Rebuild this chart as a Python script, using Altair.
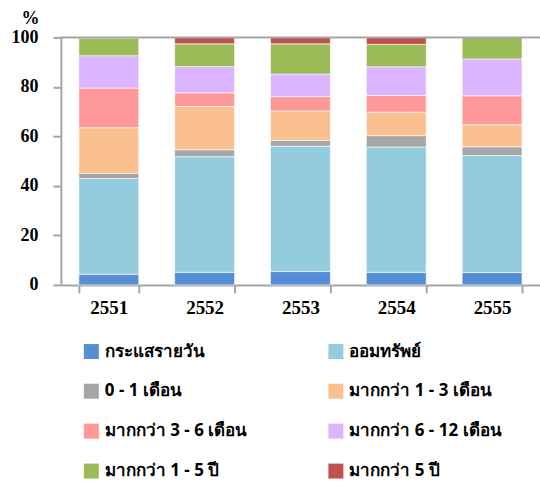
import altair as alt
import pandas as pd

years = ["2551", "2552", "2553", "2554", "2555"]
series = ["กระแสรายวัน", "ออมทรัพย์", "0 - 1 เดือน", "มากกว่า 1 - 3 เดือน",
          "มากกว่า 3 - 6 เดือน", "มากกว่า 6 - 12 เดือน", "มากกว่า 1 - 5 ปี", "มากกว่า 5 ปี"]
colors = ["#558ED5", "#93CDDD", "#A6A6A6", "#FAC090",
          "#FF9999", "#DCB4FF", "#9BBB59", "#C0504D"]
values = {
    "2551": [4.3, 38.7, 2.1, 18.4, 16.0, 13.1, 7.1, 0.3],
    "2552": [5.1, 46.7, 2.8, 17.5, 5.5, 10.6, 9.2, 2.6],
    "2553": [5.4, 50.6, 2.4, 11.9, 5.8, 9.1, 12.2, 2.6],
    "2554": [5.1, 50.6, 4.6, 9.5, 6.7, 11.6, 9.1, 2.8],
    "2555": [5.0, 47.3, 3.5, 8.9, 11.7, 14.9, 8.7, 0.0],
}
y_ticks = [0, 20, 40, 60, 80, 100]

rows = []
for y in years:
    for i, s in enumerate(series):
        rows.append({"year": y, "series": s, "idx": i, "value": values[y][i]})
df = pd.DataFrame(rows)

# legend fills column by column; reorder so it reads row by row (2 columns)
legend_order = series[0::2] + series[1::2]
legend_colors = colors[0::2] + colors[1::2]

num_font = "Liberation Serif"
thai_font = "Noto Sans"
axis_color = "#A6A6A6"

bars = alt.Chart(df).mark_bar(stroke="white", strokeWidth=0.6).encode(
    x=alt.X("year:N", sort=years, title=None,
            scale=alt.Scale(paddingInner=0.375, paddingOuter=0.1875),
            axis=alt.Axis(labelAngle=0, labelFont=num_font, labelFontSize=19,
                          labelFontWeight="bold", labelColor="black",
                          domainColor=axis_color, domainWidth=2,
                          tickColor=axis_color, tickWidth=2, tickSize=8,
                          tickBand="extent", labelPadding=6)),
    y=alt.Y("value:Q", stack="zero", title="%",
            scale=alt.Scale(domain=[0, 100], nice=False),
            axis=alt.Axis(values=y_ticks, grid=False, labelFont=num_font,
                          labelFontSize=18, labelFontWeight="bold",
                          labelColor="black", domainColor=axis_color,
                          domainWidth=2, tickColor=axis_color, tickWidth=2,
                          tickSize=8, labelPadding=15,
                          titleAngle=0, titleX=-31, titleY=-19,
                          titleAlign="center", titleBaseline="middle",
                          titleFont=num_font, titleFontSize=18,
                          titleFontWeight="bold", titleColor="black")),
    color=alt.Color("series:N",
                    scale=alt.Scale(domain=legend_order, range=legend_colors),
                    legend=alt.Legend(title=None, orient="none", legendX=22,
                                      legendY=306, columns=2, columnPadding=80,
                                      rowPadding=22, symbolType="square",
                                      symbolSize=225, symbolStrokeWidth=0,
                                      labelFont=thai_font, labelFontSize=17,
                                      labelFontWeight="bold", labelColor="black",
                                      labelOffset=5, labelLimit=300)),
    order=alt.Order("idx:Q", sort="ascending"),
)

top = alt.Chart(pd.DataFrame({"v": [100]})).mark_rule(
    color=axis_color, strokeWidth=2).encode(y="v:Q")

chart = alt.layer(bars, top).properties(
    width=480, height=248,
    autosize=alt.AutoSizeParams(type="none"),
    padding={"left": 61, "top": 37, "right": 0, "bottom": 197},
).configure_view(stroke=None)

chart.save("out.html", embed_options={"renderer": "svg", "actions": False})
